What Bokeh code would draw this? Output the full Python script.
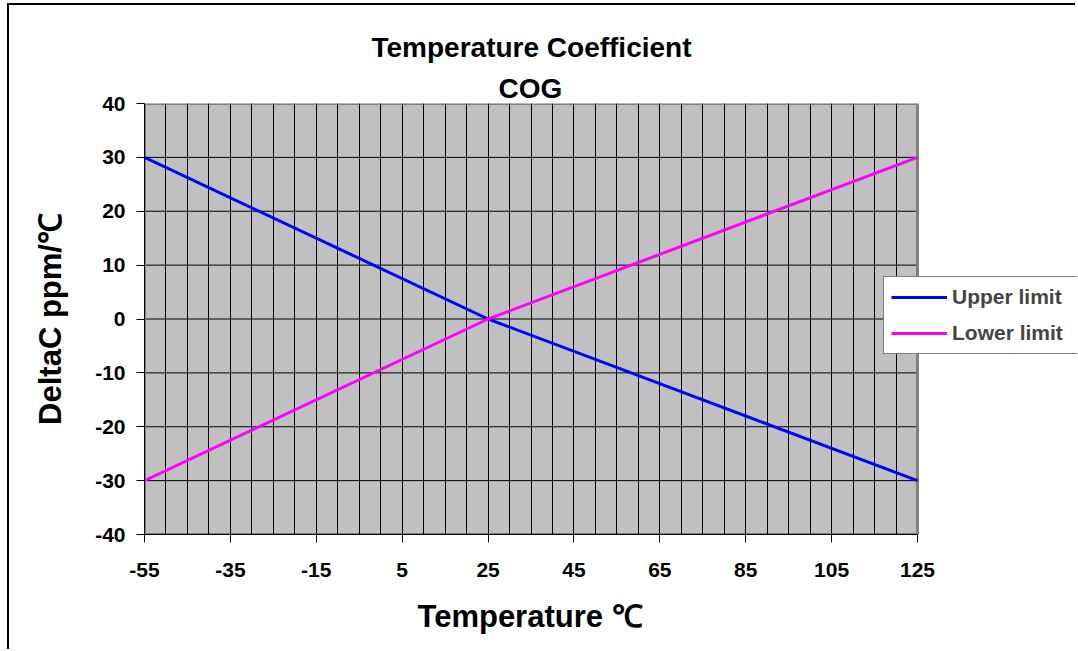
from bokeh.plotting import figure
from bokeh.models import FixedTicker, Legend, LegendItem, Title, Range1d
from bokeh.embed import file_html
from bokeh.resources import INLINE

temps = [-55, 25, 125]
upper = [30, 0, -30]
lower = [-30, 0, 30]
x_ticks = [-55, -35, -15, 5, 25, 45, 65, 85, 105, 125]
x_grid = list(range(-50, 125, 5))
y_ticks = [-40, -30, -20, -10, 0, 10, 20, 30, 40]
y_grid = [-30, -20, -10, 0, 10, 20, 30]
x_lo, x_hi = -55, 125
y_lo, y_hi = -40, 40

FONT = "Liberation Sans"

# layout: plot area 773 px wide; the frame extends to the right edge so the
# legend (which overlaps the plot area's right border) is not clipped
W, H = 1068, 646
BL, BR, BT, BB = 135, 0, 98, 117
FW = W - BL - BR
AREA_W = 773
x_end = x_lo + (x_hi - x_lo) * FW / AREA_W

p = figure(width=W, height=H, output_backend="svg", toolbar_location=None,
           x_range=Range1d(x_lo, x_end), y_range=Range1d(y_lo, y_hi),
           min_border_left=BL, min_border_right=BR, min_border_top=BT,
           min_border_bottom=BB)
p.styles = {"margin-left": "7px", "margin-top": "3px",
            "border-left": "2px solid black", "border-top": "2px solid black"}

p.background_fill_color = "white"
p.border_fill_color = "white"
p.outline_line_color = None

# plot area
p.quad(left=[x_lo], right=[x_hi], bottom=[y_lo], top=[y_hi],
       fill_color="#C0C0C0", line_color=None, level="image")

p.xgrid.ticker = FixedTicker(ticks=x_grid)
p.xgrid.grid_line_color = "black"
p.xgrid.grid_line_width = 1
p.ygrid.grid_line_color = None
p.segment(x0=[x_lo] * len(y_grid), x1=[x_hi] * len(y_grid), y0=y_grid, y1=y_grid,
          line_color="black", line_width=1, level="underlay")

p.quad(left=[x_lo], right=[x_hi], bottom=[y_lo], top=[y_hi],
       fill_color=None, line_color="#808080", line_width=3, level="underlay")

p.xaxis.ticker = FixedTicker(ticks=x_ticks)
p.yaxis.ticker = FixedTicker(ticks=y_ticks)
p.xaxis.bounds = (x_lo, x_hi)
p.xaxis.major_label_overrides = {t: str(t) for t in x_ticks}
p.yaxis.major_label_overrides = {t: str(t) for t in y_ticks}

for ax in (p.xaxis, p.yaxis):
    ax.major_label_text_font = FONT
    ax.major_label_text_font_style = "bold"
    ax.major_label_text_font_size = "21px"
    ax.major_label_text_color = "black"
    ax.axis_line_color = "black"
    ax.axis_line_width = 1
    ax.major_tick_line_color = "black"
    ax.major_tick_out = 8
    ax.major_tick_in = 0
    ax.minor_tick_line_color = None
    ax.axis_label_text_font = FONT
    ax.axis_label_text_font_style = "bold"
    ax.axis_label_text_font_size = "31px"
    ax.axis_label_text_color = "black"

p.yaxis.axis_label = "DeltaC ppm/℃"
p.xaxis.major_label_standoff = 20
p.yaxis.major_label_standoff = 11
p.yaxis.axis_label_standoff = 24

# x axis title, centred under the plot area (not the extended frame)
p.add_layout(Title(text="Temperature ℃", align="left", offset=273,
                   text_font=FONT, text_font_style="bold", text_color="black",
                   text_font_size="31px", standoff=34), "below")

r1 = p.line(temps, upper, line_color="#0000FF", line_width=3)
r2 = p.line(temps, lower, line_color="#FF00FF", line_width=3)

p.title.text = "Temperature Coefficient"
p.title.align = "left"
p.title.offset = 227
p.title.text_font = FONT
p.title.text_font_style = "bold"
p.title.text_font_size = "28px"
p.title.text_color = "black"
p.title.standoff = 15
p.add_layout(Title(text="COG", align="left", offset=354,
                   text_font=FONT, text_font_style="bold", text_color="black",
                   text_font_size="28px", standoff=0), "above")

legend = Legend(items=[LegendItem(label="Upper limit", renderers=[r1]),
                       LegendItem(label="Lower limit", renderers=[r2])],
                location=(739, 180), orientation="vertical",
                border_line_color="black", border_line_width=1,
                background_fill_color="white", background_fill_alpha=1,
                label_text_font=FONT, label_text_font_style="bold",
                label_text_font_size="21px", glyph_width=56, glyph_height=26,
                label_height=26, label_width=135, spacing=10, padding=7,
                margin=0, label_standoff=5)
p.add_layout(legend, "center")

open("out.html", "w").write(file_html(p, INLINE))
